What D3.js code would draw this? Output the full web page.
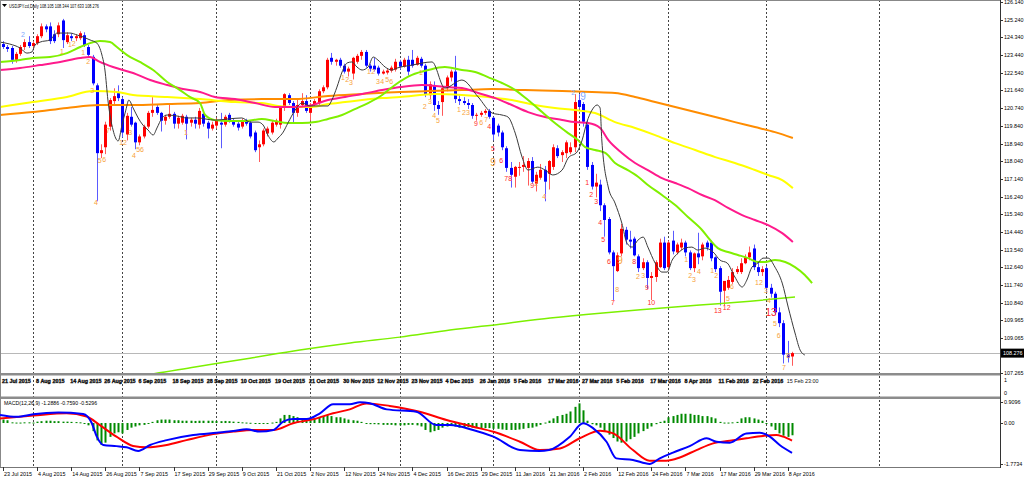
<!DOCTYPE html>
<html><head><meta charset="utf-8">
<script src="https://cdn.jsdelivr.net/npm/d3@7"></script>
<style>
html,body{margin:0;padding:0;background:#fff;overflow:hidden}
svg{display:block}
text{font-family:"Liberation Sans",Arial,sans-serif}
</style></head><body>
<svg id="c" width="1024" height="479"></svg>
<script>
// ---------------- DATA ----------------
const opens = [124.00,123.85,123.80,123.20,123.50,123.85,124.10,123.90,124.05,124.40,
124.90,124.90,124.50,124.50,125.20,124.10,124.40,124.30,124.30,124.45,
123.85,123.35,121.90,118.45,118.75,119.80,121.10,121.50,121.20,119.40,
120.30,120.00,119.00,119.30,119.80,120.50,120.80,120.50,120.10,120.30,
120.45,119.95,120.00,120.30,120.00,120.15,119.90,120.45,120.00,119.70,
119.85,120.00,119.90,120.40,120.10,119.95,119.80,120.10,120.00,119.50,
118.75,118.90,119.45,119.50,119.90,119.90,120.80,121.40,121.00,120.50,
120.90,121.10,120.50,120.90,121.00,121.60,121.80,123.30,123.10,123.20,
122.90,122.60,122.50,123.10,123.40,123.60,122.90,122.90,122.80,122.50,
122.55,122.65,122.70,123.10,122.85,123.20,123.20,122.95,123.25,122.90,
121.40,121.90,120.90,121.05,121.75,122.30,122.60,121.20,121.10,121.00,
120.90,120.35,120.40,120.50,120.60,120.25,119.85,119.50,118.70,117.70,
117.25,117.70,117.75,117.70,118.05,116.90,117.20,117.60,117.40,117.75,
118.70,118.35,118.45,118.50,118.75,121.15,120.95,119.90,117.85,116.75,
116.85,115.80,115.10,113.40,112.45,113.35,114.55,114.05,114.10,113.20,
112.60,112.90,112.10,112.15,112.65,113.90,112.65,114.00,113.40,113.65,
113.90,113.40,112.60,113.35,113.20,113.90,113.90,113.15,112.60,111.45,
111.60,111.90,112.40,112.40,112.85,113.15,113.60,112.65,112.40,112.60,
111.60,111.30,110.35,109.80,108.20,108.105];
const highs = [124.15,123.95,123.90,123.60,123.95,124.25,124.40,124.15,124.50,125.05,
125.00,125.10,124.70,125.10,125.28,124.60,124.55,124.50,124.65,124.60,
123.95,123.45,122.00,118.90,120.05,121.25,121.75,121.90,121.30,120.50,
120.80,120.05,119.40,119.90,120.60,121.30,120.90,120.55,120.40,121.00,
120.55,120.35,120.45,120.40,120.25,120.30,120.75,120.55,120.10,120.05,
120.25,120.50,120.40,120.50,120.20,120.05,120.20,120.20,120.10,119.60,
119.10,119.70,119.80,120.10,120.20,120.85,121.50,121.50,121.10,121.20,
121.50,121.40,121.00,121.20,121.70,121.90,123.30,123.55,123.25,123.30,
123.00,122.85,123.35,123.50,123.70,123.70,123.00,123.30,122.90,122.70,
122.75,122.90,123.25,123.20,123.30,123.40,123.70,123.40,123.35,123.00,
122.10,122.10,121.10,121.80,122.40,122.70,123.40,121.40,121.30,121.20,
121.00,120.50,120.60,120.70,120.70,120.30,119.95,119.60,118.80,118.00,
117.80,118.00,118.30,118.20,118.25,117.50,117.90,117.80,118.10,118.90,
118.85,118.60,119.10,119.00,121.45,121.45,121.05,120.10,118.00,117.40,
117.10,115.90,115.20,113.50,113.40,114.85,114.70,114.50,114.20,113.30,
113.10,113.00,112.40,113.00,114.10,114.20,114.00,114.50,113.90,114.10,
114.00,113.50,113.40,114.40,113.90,114.00,114.00,113.20,112.70,111.90,
112.20,112.60,112.70,113.10,113.30,113.70,113.80,112.90,112.70,112.70,
111.80,111.40,110.60,109.95,108.90,108.344];
const lows = [123.75,123.60,123.00,123.05,123.40,123.70,123.80,123.75,123.95,124.30,
124.60,124.00,124.05,124.35,123.80,124.00,124.15,124.15,124.20,123.85,
123.30,121.90,116.00,118.20,118.40,119.60,120.90,121.10,119.25,119.10,
119.80,118.65,118.85,119.20,119.70,120.30,120.40,119.55,119.90,120.20,
119.70,119.70,119.90,119.15,119.80,119.70,119.70,119.80,119.20,119.60,
119.70,118.70,119.80,120.00,119.80,119.60,119.70,119.85,119.20,118.50,
118.00,118.80,119.30,119.40,119.80,119.70,120.60,120.90,120.00,120.30,
120.80,120.50,120.10,120.80,120.90,121.50,121.70,122.95,122.90,122.80,
122.50,122.35,122.20,123.00,123.20,122.80,122.60,122.60,122.40,122.45,
122.45,122.55,122.60,122.70,122.80,122.40,122.80,122.90,122.80,121.30,
121.20,120.60,120.40,120.35,121.60,122.10,121.00,120.90,120.90,120.70,
120.20,120.10,120.30,120.40,120.20,119.10,119.30,118.60,117.50,116.70,
116.70,117.30,117.50,116.80,116.90,116.50,117.10,116.00,116.60,117.60,
118.20,118.00,118.20,118.40,118.50,120.70,119.80,117.60,116.60,116.20,
115.50,114.20,113.30,110.98,112.40,113.20,113.80,113.60,113.20,112.40,
112.50,111.55,110.98,111.90,112.60,112.50,112.50,113.30,113.30,113.50,
113.20,112.50,112.40,112.80,113.00,113.50,112.95,112.40,110.70,110.70,
111.50,111.80,112.30,112.30,112.80,113.00,112.50,112.20,112.20,111.40,
111.10,110.20,109.60,107.75,107.80,107.633];
const closes = [123.85,123.75,123.20,123.50,123.85,124.10,123.90,124.05,124.40,124.90,
124.75,124.15,124.15,124.95,124.20,124.45,124.30,124.40,124.55,123.95,
123.45,122.00,118.45,118.60,119.90,121.15,121.35,121.25,119.50,120.35,
119.90,119.00,119.30,119.80,120.50,120.65,120.50,120.10,120.30,120.45,
119.95,120.25,120.35,119.95,120.15,119.95,120.60,119.95,119.70,119.90,
120.10,119.90,120.30,120.10,119.90,119.75,120.10,119.95,119.30,118.60,
118.90,119.60,119.70,120.00,120.10,120.80,121.45,121.00,120.50,120.90,
121.10,120.60,120.90,121.10,121.60,121.80,123.20,123.10,123.20,122.90,
122.60,122.75,123.30,123.40,123.60,122.90,122.75,122.70,122.50,122.60,
122.65,122.80,123.10,122.85,123.20,122.60,122.90,123.30,122.90,121.45,
121.95,120.90,120.70,121.75,122.30,122.60,121.20,121.10,121.00,120.90,
120.35,120.40,120.50,120.60,120.30,119.40,119.50,118.75,117.70,117.35,
117.75,117.75,117.85,118.05,117.00,117.35,117.60,117.00,118.05,118.75,
118.30,118.50,119.00,118.75,121.05,120.80,120.05,117.75,116.75,116.95,
115.80,115.05,113.40,112.70,113.25,114.60,114.05,113.95,113.25,112.60,
112.90,112.10,112.20,112.90,113.90,112.60,113.90,113.45,113.80,113.90,
113.40,112.60,113.35,113.15,113.80,113.65,113.10,112.55,111.40,111.95,
112.00,112.40,112.55,112.85,113.15,113.40,112.65,112.40,112.55,111.60,
111.30,110.35,109.80,108.20,108.05,108.276];

// moving averages: [bar index, price]
const blackMA = [[-0.7,124.10],[1.6,124.00],[4.0,123.80],[5.6,123.54],[6.8,123.60],[7.5,123.95],[8.7,124.10],[11.0,124.21],[12.7,124.56],[15.7,124.56],[17.4,124.46],[18.8,124.36],[20.4,124.21],[22.0,124.05],[23.2,123.44],[23.9,122.68],[24.6,121.15],[25.8,119.63],[27.0,119.07],[27.9,119.88],[28.8,120.64],[29.5,121.15],[30.5,120.75],[31.7,120.24],[32.8,119.88],[34.0,119.63],[35.2,119.37],[36.1,119.73],[37.3,120.24],[38.5,120.39],[40.8,120.34],[43.1,120.24],[45.5,120.24],[49.7,120.13],[52.8,120.19],[56.0,120.24],[57.9,120.03],[59.8,120.03],[61.0,119.88],[62.1,119.37],[63.5,119.02],[64.5,119.22],[65.7,119.52],[66.8,119.98],[68.5,120.64],[70.1,121.00],[72.0,120.85],[74.3,120.85],[76.2,120.85],[77.1,121.15],[78.3,121.81],[79.5,122.58],[80.7,123.04],[81.8,123.09],[83.0,122.83],[84.2,122.68],[85.6,122.83],[86.8,123.34],[87.9,123.19],[89.6,122.83],[91.2,122.68],[92.4,122.78],[95.9,122.93],[100.6,123.09],[103.6,121.76],[107.6,122.17],[111.4,121.31],[114.7,120.49],[117.0,120.39],[118.4,120.29],[120.1,119.47],[121.7,118.25],[123.1,117.59],[125.4,117.74],[127.1,117.59],[128.9,117.34],[131.1,117.59],[132.5,118.20],[134.6,118.51],[135.8,119.12],[136.9,120.03],[138.1,120.64],[139.3,120.90],[140.0,120.75],[140.4,119.12],[141.9,116.73],[143.5,115.91],[145.1,114.89],[146.3,113.87],[147.5,113.67],[148.9,114.03],[150.1,114.18],[151.2,113.67],[152.9,112.86],[154.5,112.40],[155.7,112.40],[156.9,113.01],[158.3,113.37],[159.9,113.62],[161.5,113.67],[162.9,113.52],[164.6,113.62],[166.5,113.42],[168.1,113.01],[169.8,112.86],[171.6,112.15],[173.3,111.64],[174.4,111.99],[175.6,112.65],[177.0,112.86],[178.2,113.11],[179.4,113.11],[181.0,112.65],[182.7,111.84],[184.1,110.62],[185.7,109.30],[186.9,108.43],[188.0,108.18]];
const greenMA = [[-0.7,123.09],[4.0,123.19],[7.0,123.29],[11.0,123.34],[15.0,123.54],[18.1,123.85],[20.4,124.05],[22.7,124.16],[25.1,124.10],[26.7,123.85],[29.1,123.44],[32.1,123.09],[35.2,122.68],[38.5,122.07],[41.5,121.66],[43.8,121.31],[46.2,121.00],[47.4,120.39],[49.7,120.13],[52.8,120.08],[56.7,120.08],[60.7,120.19],[63.8,120.08],[66.8,119.98],[70.1,119.98],[73.2,120.03],[76.2,120.19],[79.5,120.39],[82.5,120.69],[85.6,121.00],[88.9,121.41],[91.9,121.92],[95.9,122.43],[99.7,122.68],[103.6,122.83],[107.6,122.68],[110.7,122.58],[113.7,122.32],[117.0,122.02],[120.1,121.66],[123.1,121.15],[126.4,120.54],[129.4,119.98],[132.5,119.47],[134.8,119.12],[136.5,118.76],[138.8,118.61],[141.2,118.46],[143.5,117.95],[146.5,117.59],[148.9,117.25],[151.2,116.83],[154.5,116.32],[157.6,115.81],[160.6,115.20],[163.9,114.54],[165.8,114.03],[167.6,113.62],[170.0,113.42],[172.3,113.27],[174.7,113.11],[177.0,112.91],[178.7,112.91],[181.0,113.01],[183.4,112.91],[185.7,112.65],[188.0,112.25],[189.7,111.84]];
const pinkMA = [[-0.7,122.68],[4.0,122.78],[8.7,122.93],[13.4,123.09],[18.1,123.29],[20.4,123.34],[22.7,123.09],[25.8,122.83],[30.5,122.53],[34.5,122.17],[38.5,121.92],[42.2,121.71],[46.2,121.56],[49.7,121.31],[54.4,121.20],[59.1,121.00],[63.8,120.80],[67.8,120.80],[71.5,120.85],[76.2,121.15],[80.2,121.31],[84.2,121.46],[88.9,121.66],[93.1,121.81],[98.2,121.92],[104.3,121.81],[107.6,121.76],[111.4,121.51],[115.4,121.25],[119.3,120.90],[123.1,120.54],[127.1,120.29],[131.1,120.14],[134.1,120.03],[137.2,119.98],[140.0,119.73],[141.9,119.12],[145.1,118.46],[148.2,117.95],[151.2,117.59],[154.5,117.18],[157.6,116.93],[160.6,116.67],[163.9,116.32],[166.9,116.06],[170.0,115.66],[173.3,115.30],[176.3,115.05],[179.4,114.79],[182.7,114.38],[185.2,113.93]];
const yellowMA = [[-0.7,120.80],[7.0,121.05],[15.0,121.31],[21.1,121.61],[26.7,121.56],[30.5,121.41],[38.5,121.31],[46.2,121.20],[54.4,121.05],[60.7,121.00],[64.5,120.85],[68.5,120.80],[72.5,120.80],[76.2,120.95],[80.2,121.05],[84.2,121.15],[88.9,121.25],[93.1,121.31],[101.3,121.46],[107.6,121.41],[113.7,121.31],[119.3,121.15],[124.7,120.90],[129.4,120.75],[134.1,120.64],[138.8,120.49],[143.5,120.03],[148.2,119.73],[152.9,119.37],[157.6,118.96],[162.3,118.61],[167.0,118.25],[171.6,117.95],[176.3,117.59],[179.4,117.34],[182.7,117.08],[185.2,116.67]];
const orangeMA = [[-0.7,120.39],[7.0,120.54],[15.0,120.75],[22.7,120.90],[30.5,120.90],[38.5,120.95],[46.2,121.00],[52.8,121.15],[60.7,121.20],[68.5,121.20],[76.2,121.36],[84.2,121.46],[93.1,121.56],[99.7,121.61],[107.6,121.66],[114.7,121.71],[122.4,121.66],[131.1,121.61],[138.1,121.56],[143.5,121.51],[148.2,121.31],[152.9,121.05],[157.6,120.80],[162.3,120.54],[167.0,120.29],[171.6,120.03],[176.3,119.78],[181.0,119.52],[185.2,119.22]];
const limeLong = [[29.8,107.06],[33.3,107.16],[45.0,107.57],[57.9,108.02],[69.6,108.43],[81.4,108.79],[93.1,109.09],[104.8,109.45],[116.5,109.75],[128.3,110.06],[140.0,110.31],[151.7,110.52],[163.4,110.72],[175.2,110.92],[185.7,111.13]];

// MACD(12,26,9)
const macdHist = [0.15,0.12,0.03,0.02,0.02,0.03,0.03,0.02,0.06,0.08,
0.10,0.10,0.08,0.08,0.06,0.06,0.05,0.04,0.03,0.00,
-0.10,-0.35,-0.75,-0.95,-0.85,-0.60,-0.45,-0.40,-0.45,-0.30,
-0.20,-0.15,-0.10,-0.08,-0.04,0.05,0.12,0.15,0.15,0.15,
0.12,0.12,0.10,0.10,0.10,0.09,0.10,0.10,0.10,0.10,
0.09,0.08,0.09,0.08,0.06,0.05,0.03,0.02,0.01,-0.02,
-0.03,-0.02,0.00,0.02,0.05,0.20,0.35,0.35,0.30,0.25,
0.20,0.15,0.15,0.20,0.25,0.30,0.35,0.30,0.25,0.25,
0.20,0.15,0.12,0.10,0.05,-0.03,-0.05,-0.05,-0.06,-0.08,
-0.08,-0.08,-0.10,-0.10,-0.10,-0.08,-0.08,-0.10,-0.15,-0.30,
-0.40,-0.35,-0.30,-0.20,-0.15,-0.10,-0.15,-0.20,-0.20,-0.18,
-0.20,-0.20,-0.22,-0.22,-0.22,-0.25,-0.25,-0.28,-0.30,-0.30,
-0.30,-0.28,-0.25,-0.22,-0.20,-0.15,-0.08,0.02,0.10,0.20,
0.30,0.35,0.40,0.50,0.70,0.85,0.55,0.10,-0.05,-0.10,
-0.20,-0.35,-0.50,-0.65,-0.80,-0.85,-0.80,-0.70,-0.60,-0.45,
-0.35,-0.25,-0.15,-0.05,0.05,0.10,0.25,0.30,0.35,0.40,
0.40,0.40,0.35,0.35,0.30,0.30,0.25,0.20,0.05,0.02,
0.02,0.03,0.05,0.20,0.25,0.25,0.20,0.15,0.10,0.00,
-0.15,-0.30,-0.45,-0.55,-0.60,-0.53];
const macdMain = [[-0.7,0.35],[3.2,0.27],[7.1,0.38],[13,0.45],[18.8,0.39],[20.8,0.0],[22,-0.59],[23.5,-0.95],[26.6,-1.0],[29,-1.05],[31.7,-1.21],[34.5,-0.95],[38.4,-0.74],[44.6,-0.52],[50.1,-0.42],[54,-0.35],[57.1,-0.27],[60.2,-0.37],[63.4,-0.30],[65.7,0.06],[68,0.17],[71.2,0.17],[74.3,0.42],[77.4,0.81],[81.3,0.81],[83.7,0.90],[86,0.86],[90,0.59],[96.9,0.49],[101.6,-0.09],[104.8,-0.09],[110.2,-0.30],[115,-0.59],[121.2,-1.17],[125.8,-1.21],[128,-1.17],[132.9,-0.59],[136,-0.01],[138.4,-0.23],[141.5,-0.81],[143.8,-1.53],[147.7,-1.60],[151.6,-1.77],[154,-1.53],[157.1,-1.28],[161,-1.0],[165,-0.66],[167.3,-0.81],[170.4,-0.85],[174.3,-0.45],[177.4,-0.42],[179.8,-0.59],[182.1,-0.95],[185,-1.29]];
const macdSignal = [[-0.7,0.20],[7.1,0.32],[14.9,0.42],[19.6,0.28],[22.7,-0.09],[26.6,-0.59],[30.5,-0.99],[33.7,-1.05],[38.4,-0.95],[43,-0.74],[49.3,-0.48],[54,-0.37],[58.7,-0.30],[63.4,-0.30],[68,-0.01],[72.7,0.16],[77.4,0.42],[81.3,0.59],[85.2,0.85],[90.7,0.74],[97.7,0.49],[104,0.13],[110.2,-0.16],[115,-0.38],[121.2,-0.81],[125.8,-1.17],[130.6,-1.10],[135.2,-0.66],[140,-0.33],[143.1,-0.45],[147.7,-1.17],[151.6,-1.63],[155.5,-1.63],[158.7,-1.49],[162.6,-1.17],[166.5,-0.88],[170.4,-0.77],[174.3,-0.66],[178.2,-0.56],[181.3,-0.52],[182.9,-0.59],[185,-0.76]];

// count labels: [bar index, price, text, colour key]
const tdLabels = [[13.8,123.60,"1","o"],[15.7,123.95,"1","o"],[16.6,124.00,"2","o"],[18.8,123.54,"1","o"],[20.0,123.09,"2","o"],[20.9,121.61,"3","o"],[21.8,115.91,"4","o"],[22.7,118.05,"5","o"],[23.7,118.10,"6","o"],[24.6,119.57,"7","o"],[27.7,118.96,"1","o"],[28.6,118.96,"2","o"],[29.8,119.47,"3","o"],[30.7,118.30,"4","o"],[31.7,118.61,"5","o"],[32.6,118.61,"6","o"],[42.9,119.47,"1","o"],[4.7,124.46,"2","b"],
[79.7,122.27,"1","o"],[80.7,122.17,"2","o"],[81.6,122.02,"3","o"],[85.8,122.58,"1","o"],[86.8,122.58,"2","o"],[87.9,122.07,"3","o"],[88.9,122.07,"4","o"],[90.1,122.17,"5","o"],[91.0,122.07,"6","o"],
[98.0,122.53,"1","o"],[98.9,120.80,"2","o"],[100.1,121.05,"3","o"],[101.1,120.34,"4","o"],[102.0,120.08,"5","o"],[106.9,120.64,"1","o"],[108.1,120.49,"2","o"],[109.0,120.49,"3","o"],[110.9,119.93,"9","r"],[112.1,119.98,"6","o"],[113.3,120.13,"7","o"],[114.0,119.78,"4","r"],[114.9,118.66,"5","r"],[114.9,117.95,"9","O"],[116.8,118.05,"6","r"],[118.0,117.13,"7","r"],[118.9,117.13,"8","r"],[124.1,116.78,"9","r"],[125.0,116.88,"2","o"],[126.9,116.22,"4","o"],
[133.7,121.51,"2","b"],[136.0,121.31,"9","B"],[137.0,116.93,"1","r"],[137.9,116.32,"2","r"],[139.1,115.96,"3","r"],[140.0,114.89,"4","r"],[140.7,114.03,"5","r"],[142.1,112.91,"6","r"],[143.0,110.82,"7","r"],[144.0,111.48,"8","o"],[144.7,112.96,"9","O"],[148.0,112.91,"8","r"],[148.9,112.15,"2","o"],[150.1,112.20,"3","o"],[151.0,111.59,"9","r"],[152.0,110.82,"10","r"],
[160.2,113.01,"1","o"],[161.1,112.20,"2","o"],[162.0,111.99,"3","o"],[163.2,112.40,"4","o"],[166.3,112.45,"1","o"],[167.2,112.20,"2","o"],[167.6,110.41,"13","r"],[169.7,110.57,"12","r"],[170.0,111.03,"5","o"],[170.9,111.64,"6","o"],[176.8,111.84,"1","o"],[177.7,111.84,"2","o"],[178.9,111.43,"3","o"],[179.6,110.92,"4","o"],[180.1,110.31,"13","R"],[181.0,109.75,"5","o"],[181.9,109.14,"6","o"],[183.1,107.52,"7","o"],[184.1,108.13,"8","o"]];

const priceTicks = ["126.140","125.240","124.340","123.440","122.540","121.640","120.740","119.840","118.940","118.040","117.140","116.240","115.340","114.440","113.540","112.640","111.740","110.840","109.965","109.065","107.265"];
const macdTicks = ["0.9096","0.00","-1.7734"];
const subTicks = ["1","0"];
const timeLabels = ["23 Jul 2015","4 Aug 2015","14 Aug 2015","26 Aug 2015","7 Sep 2015","17 Sep 2015","29 Sep 2015","9 Oct 2015","21 Oct 2015","2 Nov 2015","12 Nov 2015","24 Nov 2015","4 Dec 2015","16 Dec 2015","29 Dec 2015","11 Jan 2016","21 Jan 2016","2 Feb 2016","12 Feb 2016","24 Feb 2016","7 Mar 2016","17 Mar 2016","29 Mar 2016","8 Apr 2016"];
const subLabels = ["21 Jul 2015","8 Aug 2015","14 Aug 2015","26 Aug 2015","6 Sep 2015","18 Sep 2015","28 Sep 2015","10 Oct 2015","19 Oct 2015","21 Oct 2015","30 Nov 2015","12 Nov 2015","23 Nov 2015","4 Dec 2015","26 Jan 2016","5 Feb 2016","17 Mar 2016","27 Mar 2016","5 Feb 2016","17 Mar 2016","8 Apr 2016","11 Feb 2016","22 Feb 2016","15 Feb 23:00"];
const monthSeparators = [7,28,50,72,93,115,135,156,179,205.4];
const lastBar = {o:"108.105", h:"108.344", l:"107.633", c:"108.276"};
const symbolName = "USDJPY.cd,Daily";
const macdTitle = "MACD(12,26,9) -1.2886 -0.7590 -0.5296";

// ---------------- DRAW ----------------
const svg = d3.select("#c");
const AX = 1000;
const nBars = closes.length;
const x = d3.scaleLinear().domain([0, nBars-1]).range([3, 3 + (nBars-1)*4.265]);
const y = d3.scaleLinear().domain([107.265, 126.14]).range([373, 2]);
const ym = d3.scaleLinear().domain([-1.7734, 0.9096]).range([464, 402]);
const ys = d3.scaleLinear().domain([0, 1]).range([393, 380]);

svg.append("rect").attr("width",1024).attr("height",479).attr("fill","#fff");

const defs = svg.append("defs");
defs.append("clipPath").attr("id","cMain").append("rect").attr("x",0).attr("y",0.5).attr("width",AX).attr("height",372.5);
defs.append("clipPath").attr("id","cMacd").append("rect").attr("x",0).attr("y",399).attr("width",AX).attr("height",68);

// month separators
svg.append("g").selectAll("line").data(monthSeparators).join("line")
  .attr("x1",d=>Math.round(x(d))+0.5).attr("x2",d=>Math.round(x(d))+0.5)
  .attr("y1",0).attr("y2",467)
  .attr("stroke","#444").attr("stroke-width",1).attr("stroke-dasharray","2,2");

// current price line
svg.append("line").attr("x1",0).attr("x2",AX).attr("y1",Math.round(y(+lastBar.c))+0.5).attr("y2",Math.round(y(+lastBar.c))+0.5)
  .attr("stroke","#b8b8b8").attr("stroke-width",1);

const gMain = svg.append("g").attr("clip-path","url(#cMain)");

// candles
const idx = d3.range(nBars);
const cg = gMain.append("g");
cg.selectAll("line").data(idx).join("line")
  .attr("x1",i=>Math.round(x(i))+0.5).attr("x2",i=>Math.round(x(i))+0.5)
  .attr("y1",i=>y(highs[i])).attr("y2",i=>y(lows[i]))
  .attr("stroke",i=>closes[i]>=opens[i]?"#ff5a5a":"#5a5aff").attr("stroke-width",1);
cg.selectAll("rect").data(idx).join("rect")
  .attr("x",i=>Math.round(x(i))-1).attr("width",3)
  .attr("y",i=>y(Math.max(opens[i],closes[i])))
  .attr("height",i=>Math.max(1, Math.abs(y(opens[i])-y(closes[i]))))
  .attr("fill",i=>closes[i]>=opens[i]?"#ff0000":"#0000ff");

// moving averages
const maLine = d3.line().x(d=>x(d[0])).y(d=>y(d[1])).curve(d3.curveMonotoneX);
const mas = [
  [limeLong,"#7cf000",1.5],
  [orangeMA,"#ff8c00",2],
  [yellowMA,"#ffff00",2],
  [pinkMA,"#ff1a8c",2],
  [greenMA,"#80f000",2],
  [blackMA,"#3a3a3a",1]
];
mas.forEach(([data,col,w])=>{
  gMain.append("path").attr("d",maLine(data)).attr("fill","none").attr("stroke",col).attr("stroke-width",w);
});

// count labels
const lblColor = {o:"#f7a23b",O:"#f7a23b",r:"#ff2a2a",R:"#ff2a2a",b:"#7fa8ff",B:"#7fa8ff"};
gMain.append("g").selectAll("text").data(tdLabels).join("text")
  .attr("x",d=>x(d[0])).attr("y",d=>y(d[1]))
  .attr("text-anchor","middle").attr("dominant-baseline","middle")
  .attr("font-size",d=>(d[3]==="O"||d[3]==="R"||d[3]==="B")?10:7)
  .attr("fill",d=>lblColor[d[3]]).text(d=>d[2]);

// title
svg.append("path").attr("d","M2,4 L7,4 L4.5,7 Z").attr("fill","#000");
svg.append("text").attr("x",9).attr("y",8).attr("font-size",5.6).attr("fill","#000")
  .attr("textLength",90).attr("lengthAdjust","spacingAndGlyphs")
  .text(symbolName+" "+lastBar.o+" "+lastBar.h+" "+lastBar.l+" "+lastBar.c);

// panel separators and frame
svg.append("rect").attr("x",0).attr("y",373).attr("width",AX).attr("height",2.5).attr("fill","#8c8c8c");
svg.append("rect").attr("x",0).attr("y",396.5).attr("width",AX).attr("height",2.5).attr("fill","#8c8c8c");
svg.append("line").attr("x1",0).attr("x2",AX).attr("y1",0.5).attr("y2",0.5).attr("stroke","#888");
svg.append("line").attr("x1",0.5).attr("x2",0.5).attr("y1",0).attr("y2",467).attr("stroke","#888");
svg.append("line").attr("x1",0).attr("x2",AX).attr("y1",467.5).attr("y2",467.5).attr("stroke","#777");
svg.append("line").attr("x1",AX+0.5).attr("x2",AX+0.5).attr("y1",0).attr("y2",468).attr("stroke","#333");

// sub panel labels (bold, smeared dates)
svg.append("g").selectAll("text").data(subLabels).join("text")
  .attr("x",(d,i)=>x(i*8)-1).attr("y",383)
  .attr("font-size",5.4).attr("font-weight",(d,i)=>i===subLabels.length-1?"normal":"bold")
  .attr("fill","#111")
  .attr("stroke",(d,i)=>i===subLabels.length-1?"none":"#111").attr("stroke-width",0.35)
  .text(d=>d);

// MACD panel
const gM = svg.append("g").attr("clip-path","url(#cMacd)");
gM.selectAll("rect").data(idx).join("rect")
  .attr("x",i=>Math.round(x(i))-0.5).attr("width",2)
  .attr("y",i=>Math.min(ym(0),ym(macdHist[i])))
  .attr("height",i=>Math.max(1,Math.abs(ym(macdHist[i])-ym(0))))
  .attr("fill","#008a00");
const mLine = d3.line().x(d=>x(d[0])).y(d=>ym(d[1])).curve(d3.curveMonotoneX);
gM.append("path").attr("d",mLine(macdSignal)).attr("fill","none").attr("stroke","#ff0000").attr("stroke-width",2);
gM.append("path").attr("d",mLine(macdMain)).attr("fill","none").attr("stroke","#0000ff").attr("stroke-width",2);
svg.append("text").attr("x",4).attr("y",405).attr("font-size",5.2).attr("fill","#000").text(macdTitle);

// right axes
const ax = svg.append("g").attr("font-size",5.4).attr("fill","#000");
ax.selectAll("text.p").data(priceTicks).join("text").attr("class","p")
  .attr("x",AX+4).attr("y",d=>y(+d)+2).text(d=>d);
ax.selectAll("line.p").data(priceTicks).join("line").attr("class","p")
  .attr("x1",AX).attr("x2",AX+3).attr("y1",d=>Math.round(y(+d))+0.5).attr("y2",d=>Math.round(y(+d))+0.5).attr("stroke","#333");
ax.selectAll("text.m").data(macdTicks).join("text").attr("class","m")
  .attr("x",AX+4).attr("y",d=>ym(+d)+2).text(d=>d);
ax.selectAll("line.m").data(macdTicks).join("line").attr("class","m")
  .attr("x1",AX).attr("x2",AX+3).attr("y1",d=>Math.round(ym(+d))+0.5).attr("y2",d=>Math.round(ym(+d))+0.5).attr("stroke","#333");
ax.selectAll("text.s").data(subTicks).join("text").attr("class","s")
  .attr("x",AX+4).attr("y",d=>ys(+d)+2).text(d=>d);
// current price box
const cy = y(+lastBar.c);
svg.append("rect").attr("x",AX+1).attr("y",cy-4.5).attr("width",23).attr("height",9).attr("fill","#000");
svg.append("text").attr("x",AX+3).attr("y",cy+2).attr("font-size",5.4).attr("fill","#fff").text(lastBar.c);

// bottom time axis
const tg = svg.append("g").attr("font-size",5.4).attr("fill","#000");
tg.selectAll("text").data(timeLabels).join("text")
  .attr("x",(d,i)=>x(i*8)+1).attr("y",476).text(d=>d);
tg.selectAll("line").data(timeLabels).join("line")
  .attr("x1",(d,i)=>Math.round(x(i*8))+0.5).attr("x2",(d,i)=>Math.round(x(i*8))+0.5)
  .attr("y1",467).attr("y2",471).attr("stroke","#333");
</script>
</body></html>
